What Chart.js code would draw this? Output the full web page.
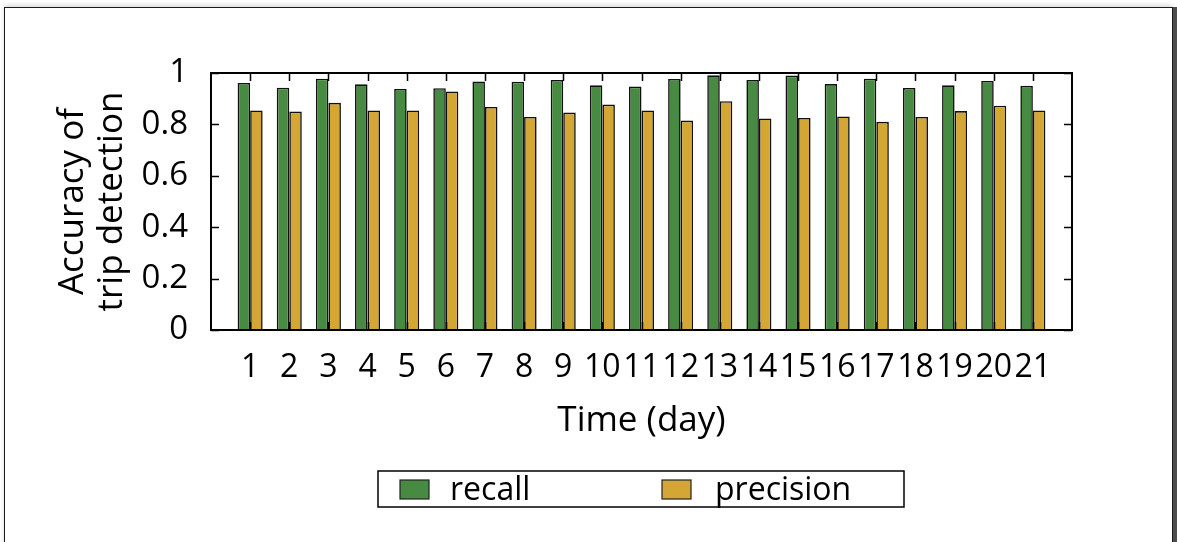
<!DOCTYPE html>
<html>
<head>
<meta charset="utf-8">
<script src="https://cdn.jsdelivr.net/npm/chart.js@4.4.0/dist/chart.umd.min.js"></script>
<style>
  html, body { margin: 0; padding: 0; background: #fff; overflow: hidden; width: 1177px; height: 542px; }
  #frame {
    position: absolute; left: 4px; top: 7px; width: 1167px; height: 700px;
    border: 1px solid #1a1a1a; background: #fff;
    box-shadow: 4px 0 0 #4d4d4d, 0 -2px 5px rgba(0,0,0,0.15);
  }
  #c { position: absolute; left: 0; top: 0; }
</style>
</head>
<body>
<div id="frame"></div>
<canvas id="c" width="1177" height="542"></canvas>
<script>
// Daily trip-detection accuracy
const days = ['1','2','3','4','5','6','7','8','9','10','11','12','13','14','15','16','17','18','19','20','21'];
const recall = [0.961,0.943,0.978,0.956,0.938,0.941,0.967,0.966,0.973,0.952,0.947,0.977,0.991,0.973,0.990,0.957,0.978,0.942,0.952,0.969,0.950];
const precision = [0.854,0.850,0.884,0.854,0.854,0.928,0.868,0.829,0.846,0.877,0.854,0.815,0.890,0.823,0.825,0.831,0.810,0.829,0.852,0.873,0.854];
const yTicks = [0, 0.2, 0.4, 0.6, 0.8, 1];

const FONT = "'Open Sans', 'DejaVu Sans', sans-serif";

// one empty slot on each side leaves a full category of room at the plot edges
const labels = [''].concat(days, ['']);
const pad = arr => [null].concat(arr, [null]);

// closed plot frame with inward tick marks on all four sides
const frameTicks = {
  id: 'frameTicks',
  afterDatasetsDraw(chart) {
    const { ctx, chartArea: a, scales: { x, y } } = chart;
    ctx.save();
    ctx.strokeStyle = '#000';
    ctx.lineWidth = 1.5;
    ctx.beginPath();
    y.ticks.forEach(t => {
      const py = Math.round(y.getPixelForValue(t.value)) + 0.5;
      ctx.moveTo(a.left, py); ctx.lineTo(a.left + 8, py);
      ctx.moveTo(a.right, py); ctx.lineTo(a.right - 8, py);
    });
    days.forEach((d, i) => {
      const px = Math.round(x.getPixelForValue(i + 1)) + 0.5;
      ctx.moveTo(px, a.bottom); ctx.lineTo(px, a.bottom - 8);
      ctx.moveTo(px, a.top); ctx.lineTo(px, a.top + 8);
    });
    ctx.stroke();
    ctx.lineWidth = 2;
    ctx.strokeRect(a.left, a.top, a.right - a.left, a.bottom - a.top);
    ctx.restore();
  }
};

// boxed legend below the axis title
const boxedLegend = {
  id: 'boxedLegend',
  afterDraw(chart) {
    const { ctx } = chart;
    const box = { left: 378, top: 471, right: 904, bottom: 507 };
    const entries = [
      { sw: 400, tx: 450 },
      { sw: 662, tx: 715 }
    ];
    ctx.save();
    ctx.lineWidth = 1.5;
    ctx.strokeStyle = '#000';
    ctx.strokeRect(box.left, box.top, box.right - box.left, box.bottom - box.top);
    ctx.font = '32px ' + FONT;
    ctx.textBaseline = 'middle';
    ctx.textAlign = 'left';
    chart.data.datasets.forEach((ds, i) => {
      const e = entries[i];
      ctx.fillStyle = ds.backgroundColor;
      ctx.fillRect(e.sw, 480, 29, 19);
      ctx.strokeStyle = '#222';
      ctx.lineWidth = 1.2;
      ctx.strokeRect(e.sw, 480, 29, 19);
      ctx.fillStyle = '#000';
      ctx.fillText(ds.label, e.tx, 491);
    });
    ctx.restore();
  }
};

new Chart(document.getElementById('c'), {
  type: 'bar',
  data: {
    labels: labels,
    datasets: [
      { label: 'recall', data: pad(recall), backgroundColor: '#478a41', borderColor: '#111', borderWidth: 1.6,
        barPercentage: 1, categoryPercentage: 0.64 },
      { label: 'precision', data: pad(precision), backgroundColor: '#d4a633', borderColor: '#111', borderWidth: 1.6,
        barPercentage: 1, categoryPercentage: 0.64 }
    ]
  },
  plugins: [frameTicks, boxedLegend],
  options: {
    responsive: false,
    animation: false,
    devicePixelRatio: 1,
    layout: { padding: { left: 0, top: 73, right: 105, bottom: 101 } },
    plugins: { legend: { display: false }, tooltip: { enabled: false } },
    scales: {
      x: {
        offset: false,
        grid: { display: false, drawTicks: false },
        border: { display: false },
        ticks: { font: { family: FONT, size: 32 }, color: '#000', padding: 19, maxRotation: 0, minRotation: 0, autoSkip: false },
        title: { display: true, text: 'Time (day)', color: '#000', font: { family: FONT, size: 35, lineHeight: 1.114 }, padding: { top: 0, bottom: 0 } },
        afterFit(s) { s.height = 111; }
      },
      y: {
        min: 0, max: 1,
        grid: { display: false, drawTicks: false },
        border: { display: false },
        afterBuildTicks(s) { s.ticks = yTicks.map(v => ({ value: v })); },
        ticks: { font: { family: FONT, size: 33 }, color: '#000', padding: 23, callback: v => String(v) },
        title: { display: true, text: ['Accuracy of', 'trip detection'], color: '#000', font: { family: FONT, size: 35, lineHeight: 1.114 }, padding: { top: 54, bottom: 0 } },
        afterFit(s) { s.width = 211; }
      }
    }
  }
});
</script>
</body>
</html>
